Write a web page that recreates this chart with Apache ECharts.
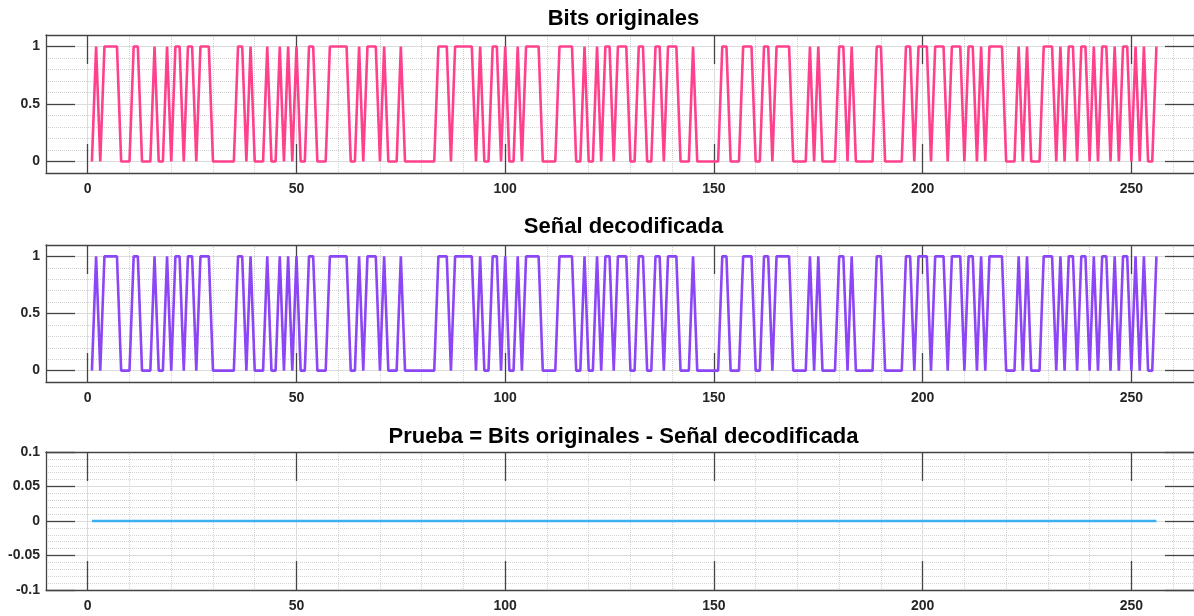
<!DOCTYPE html>
<html>
<head>
<meta charset="utf-8">
<title>Bits originales / Señal decodificada</title>
<script src="https://cdn.jsdelivr.net/npm/echarts@6/dist/echarts.min.js"></script>
<style>
  html, body { margin: 0; padding: 0; background: #ffffff; }
  #chart { width: 1194px; height: 616px; }
</style>
</head>
<body>
<div id="chart"></div>
<script>
// Transmitted bit stream (256 bits)
const bitsOriginales = [
  0,1,0,1,1,1,1,0, 0,0,1,1,0,0,0,1, 0,0,1,0,1,1,0,1, 1,0,1,1,1,0,0,0,
  0,0,0,1,1,0,1,0, 0,0,1,0,0,1,0,1, 0,1,0,0,1,1,0,0, 0,1,1,1,1,1,0,0,
  1,0,1,1,1,0,1,0, 0,0,1,0,0,0,0,0, 0,0,0,1,1,1,0,1, 1,1,1,1,0,1,0,0,
  1,1,0,1,0,0,1,0, 1,1,1,1,0,0,0,0, 1,1,1,1,0,0,1,0, 0,1,0,1,1,0,1,1,
  1,0,0,1,1,0,0,1, 1,0,1,1,1,0,0,0, 1,0,0,0,0,0,0,1, 1,0,0,0,1,1,1,0,
  0,1,1,0,1,1,1,1, 0,0,0,0,1,0,1,0, 0,0,0,1,1,0,1,0, 0,0,0,0,1,1,0,0,
  0,0,0,1,1,0,1,1, 1,0,1,1,1,0,1,1, 1,0,1,1,0,1,0,1, 1,1,1,0,0,0,1,0,
  1,0,0,0,1,1,1,0, 1,0,1,1,0,1,1,0, 1,0,1,1,0,1,0,1, 1,0,1,0,1,0,0,1
];

// Bit stream recovered by the decoder
const senalDecodificada = [
  0,1,0,1,1,1,1,0, 0,0,1,1,0,0,0,1, 0,0,1,0,1,1,0,1, 1,0,1,1,1,0,0,0,
  0,0,0,1,1,0,1,0, 0,0,1,0,0,1,0,1, 0,1,0,0,1,1,0,0, 0,1,1,1,1,1,0,0,
  1,0,1,1,1,0,1,0, 0,0,1,0,0,0,0,0, 0,0,0,1,1,1,0,1, 1,1,1,1,0,1,0,0,
  1,1,0,1,0,0,1,0, 1,1,1,1,0,0,0,0, 1,1,1,1,0,0,1,0, 0,1,0,1,1,0,1,1,
  1,0,0,1,1,0,0,1, 1,0,1,1,1,0,0,0, 1,0,0,0,0,0,0,1, 1,0,0,0,1,1,1,0,
  0,1,1,0,1,1,1,1, 0,0,0,0,1,0,1,0, 0,0,0,1,1,0,1,0, 0,0,0,0,1,1,0,0,
  0,0,0,1,1,0,1,1, 1,0,1,1,1,0,1,1, 1,0,1,1,0,1,0,1, 1,1,1,0,0,0,1,0,
  1,0,0,0,1,1,1,0, 1,0,1,1,0,1,1,0, 1,0,1,1,0,1,0,1, 1,0,1,0,1,0,0,1
];

// Check signal: original minus decoded
const prueba = bitsOriginales.map((b, i) => b - senalDecodificada[i]);

// Sample index 1..256
const muestras = bitsOriginales.map((_, i) => i + 1);

const xTicks = [0, 50, 100, 150, 200, 250];
const bitTicks = [0, 0.5, 1];
const titulos = [
  'Bits originales',
  'Señal decodificada',
  'Prueba = Bits originales - Señal decodificada'
];
const colores = ['#FF408C', '#8C46F5', '#3CAFF0'];

const FONT = "'Liberation Sans', Arial, Helvetica, sans-serif";
const BOX = '#444444';
const MAJOR = '#dcdcdc';
const MINOR = '#d2d2d2';
const NONE = 'rgba(0,0,0,0)';

const X_MIN = -10, X_MAX = 265;

const panels = [
  { top: 35,  height: 138, data: bitsOriginales,     yMin: -0.1, yMax: 1.1, titleTop: 8 },
  { top: 245, height: 137, data: senalDecodificada,  yMin: -0.1, yMax: 1.1, titleTop: 216 },
  { top: 452, height: 138, data: prueba,             yMin: -0.1, yMax: 0.1, titleTop: 426 }
];

const grid = [], xAxis = [], yAxis = [], series = [], title = [];

const tickLabel = { fontFamily: FONT, fontWeight: 'bold', fontSize: 14, color: '#262626' };

panels.forEach((p, g) => {
  grid.push({ left: 46, top: p.top, width: 1155, height: p.height, containLabel: false });

  title.push({
    text: titulos[g],
    left: 623.5,
    top: p.titleTop,
    textAlign: 'center',
    padding: 0,
    textStyle: { fontFamily: FONT, fontWeight: 'bold', fontSize: 22, color: '#000000' }
  });

  const base = { type: 'value', gridIndex: g, min: X_MIN, max: X_MAX };
  // bottom axis: box edge, ticks and labels
  xAxis.push(Object.assign({}, base, {
    position: 'bottom',
    axisLine: { show: true, onZero: false, lineStyle: { color: BOX, width: 1.3 } },
    axisTick: { show: true, inside: true, length: 29, customValues: xTicks, lineStyle: { color: BOX, width: 1.3 } },
    axisLabel: Object.assign({ show: true, margin: 9, customValues: xTicks }, tickLabel),
    splitLine: { show: false }
  }));
  // top axis: box edge and ticks
  xAxis.push(Object.assign({}, base, {
    position: 'top',
    axisLine: { show: true, onZero: false, lineStyle: { color: BOX, width: 1.3 } },
    axisTick: { show: true, inside: true, length: 29, customValues: xTicks, lineStyle: { color: BOX, width: 1.3 } },
    axisLabel: { show: false },
    splitLine: { show: false }
  }));
  // minor vertical grid every 10
  xAxis.push(Object.assign({}, base, {
    interval: 10,
    axisLine: { show: false }, axisTick: { show: false }, axisLabel: { show: false },
    splitLine: { show: true, lineStyle: { color: MINOR, type: 'dotted', width: 1 } }
  }));
  // major vertical grid every 50
  xAxis.push(Object.assign({}, base, {
    interval: 10,
    axisLine: { show: false }, axisTick: { show: false }, axisLabel: { show: false },
    splitLine: { show: true, lineStyle: { color: [NONE, MAJOR, NONE, NONE, NONE], width: 1 } }
  }));

  const isBits = p.yMax > 1;
  const yBase = { type: 'value', gridIndex: g, min: p.yMin, max: p.yMax };
  const yTickOpt = isBits ? { customValues: bitTicks } : {};
  const yMainExtra = isBits ? {} : { interval: 0.05 };

  yAxis.push(Object.assign({}, yBase, yMainExtra, {
    position: 'left',
    axisLine: { show: true, onZero: false, lineStyle: { color: BOX, width: 1.3 } },
    axisTick: Object.assign({ show: true, inside: true, length: 29, lineStyle: { color: BOX, width: 1.3 } }, yTickOpt),
    axisLabel: Object.assign({ show: true, margin: 6 }, yTickOpt, tickLabel),
    splitLine: { show: false }
  }));
  yAxis.push(Object.assign({}, yBase, yMainExtra, {
    position: 'right',
    axisLine: { show: true, onZero: false, lineStyle: { color: BOX, width: 1.3 } },
    axisTick: Object.assign({ show: true, inside: true, length: 29, lineStyle: { color: BOX, width: 1.3 } }, yTickOpt),
    axisLabel: { show: false },
    splitLine: { show: false }
  }));
  // minor horizontal grid
  yAxis.push(Object.assign({}, yBase, {
    interval: isBits ? 0.1 : 0.01,
    axisLine: { show: false }, axisTick: { show: false }, axisLabel: { show: false },
    splitLine: { show: true, lineStyle: { color: MINOR, type: 'dotted', width: 1 } }
  }));
  // major horizontal grid
  yAxis.push(Object.assign({}, yBase, {
    interval: isBits ? 0.1 : 0.05,
    axisLine: { show: false }, axisTick: { show: false }, axisLabel: { show: false },
    splitLine: { show: true, lineStyle: { color: isBits ? [NONE, MAJOR, NONE, NONE, NONE] : MAJOR, width: 1 } }
  }));

  series.push({
    type: 'line',
    xAxisIndex: g * 4,
    yAxisIndex: g * 4,
    data: muestras.map((n, i) => [n, p.data[i]]),
    showSymbol: false,
    symbol: 'none',
    lineStyle: { color: colores[g], width: 2.6 },
    itemStyle: { color: colores[g] },
    z: 5,
    animation: false
  });
});

const chart = echarts.init(document.getElementById('chart'), null, { renderer: 'canvas' });
chart.setOption({
  backgroundColor: '#ffffff',
  animation: false,
  title, grid, xAxis, yAxis, series
});
</script>
</body>
</html>
